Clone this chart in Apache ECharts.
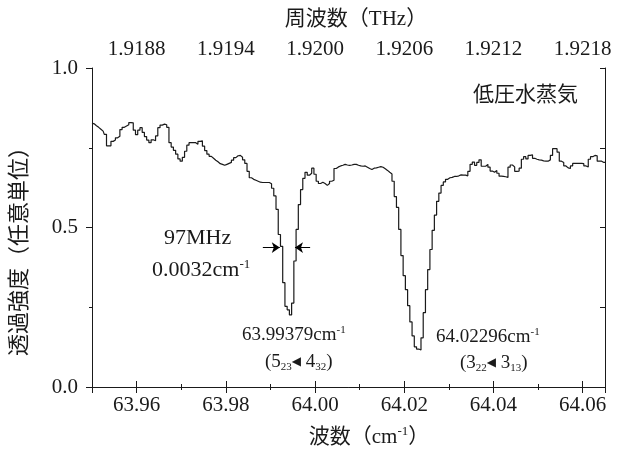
<!DOCTYPE html>
<html><head><meta charset="utf-8">
<script src="https://cdn.jsdelivr.net/npm/echarts@6/dist/echarts.min.js"></script>
<style>html,body{margin:0;padding:0;background:#fff}#c{width:624px;height:450px}</style>
</head><body><div id="c"></div>
<script>
// sampling grid of the spectrum (wavenumber, cm^-1)
const waveStart = 63.95;
const waveStep = 0.0005;
// transmitted intensity (arb. units)
const transmission = [
0.827,0.825,0.819,0.814,0.808,0.802,0.792,0.756,0.756,0.770,
0.774,0.781,0.786,0.807,0.814,0.818,0.822,0.829,0.828,0.805,
0.791,0.805,0.813,0.798,0.785,0.774,0.766,0.775,0.772,0.787,
0.813,0.821,0.824,0.822,0.814,0.766,0.752,0.742,0.730,0.715,
0.708,0.720,0.739,0.758,0.766,0.766,0.766,0.761,0.770,0.772,
0.755,0.741,0.730,0.723,0.717,0.711,0.706,0.700,0.698,0.695,
0.698,0.701,0.704,0.711,0.719,0.725,0.726,0.720,0.712,0.701,
0.676,0.656,0.651,0.648,0.645,0.642,0.641,0.641,0.641,0.641,
0.637,0.623,0.599,0.557,0.478,0.441,0.327,0.253,0.242,0.226,
0.263,0.395,0.494,0.572,0.619,0.654,0.673,0.664,0.670,0.686,
0.667,0.645,0.638,0.642,0.638,0.632,0.638,0.645,0.648,0.685,
0.690,0.693,0.695,0.698,0.696,0.695,0.696,0.698,0.698,0.695,
0.693,0.692,0.693,0.689,0.685,0.682,0.686,0.687,0.689,0.691,
0.689,0.684,0.679,0.673,0.668,0.645,0.597,0.563,0.494,0.412,
0.349,0.305,0.255,0.204,0.160,0.126,0.119,0.116,0.154,0.233,
0.305,0.368,0.431,0.491,0.539,0.582,0.608,0.632,0.643,0.651,
0.656,0.657,0.660,0.660,0.662,0.665,0.664,0.664,0.662,0.676,
0.698,0.705,0.695,0.704,0.712,0.692,0.692,0.698,0.689,0.677,
0.673,0.679,0.670,0.661,0.660,0.659,0.657,0.689,0.696,0.690,
0.676,0.677,0.686,0.714,0.722,0.715,0.726,0.728,0.717,0.714,
0.712,0.711,0.709,0.708,0.708,0.712,0.726,0.747,0.747,0.736,
0.708,0.704,0.693,0.687,0.685,0.693,0.701,0.701,0.701,0.701,
0.700,0.693,0.690,0.714,0.722,0.726,0.725,0.708,0.708,0.704,0.704
];
const bottomTickLabels = ['63.96','63.98','64.00','64.02','64.04','64.06'];
const topTickLabels = ['1.9188','1.9194','1.9200','1.9206','1.9212','1.9218'];
const yTickLabels = ['0.0','0.5','1.0'];
const xMin = 63.95, xMax = 64.065;
// FWHM arrows (cm^-1, intensity)
const fwhmY = 0.437;
const fwhmLeftArrow = [63.9883, 63.9921];
const fwhmRightArrow = [63.9989, 63.9955];

const serif = "'Liberation Serif','DejaVu Serif','Noto Sans CJK JP',serif";
const cjk = "'Liberation Serif','Noto Sans CJK JP',sans-serif";
const ink = '#1a1a1a';

const data = transmission.map((v, i) => [+(waveStart + i * waveStep).toFixed(4), v]);

const chart = echarts.init(document.getElementById('c'), null, {renderer: 'canvas'});
const axisLine = {show: true, lineStyle: {color: ink, width: 1}};
chart.setOption({
  animation: false,
  backgroundColor: '#fff',
  grid: {left: 92, right: 19, top: 68, bottom: 63},
  xAxis: [{
    type: 'value', position: 'bottom', min: xMin, max: xMax, splitNumber: 5,
    axisLine, splitLine: {show: false},
    axisTick: {show: true, inside: false, length: 6, lineStyle: {color: ink}},
    minorTick: {show: true, splitNumber: 2, length: 3, lineStyle: {color: ink}},
    axisLabel: {show: true, margin: 8, showMinLabel: false, showMaxLabel: false,
      color: ink, fontFamily: serif, fontSize: 21,
      formatter: v => { const s = v.toFixed(2); return bottomTickLabels.includes(s) ? s : ''; }}
  }, {
    type: 'value', position: 'top', min: xMin, max: xMax, splitNumber: 5,
    axisLine, splitLine: {show: false},
    axisTick: {show: true, inside: false, length: 6, lineStyle: {color: ink}},
    minorTick: {show: true, splitNumber: 2, length: 3, lineStyle: {color: ink}},
    axisLabel: {show: true, margin: 8, showMinLabel: false, showMaxLabel: false,
      color: ink, fontFamily: serif, fontSize: 21,
      formatter: v => { const k = Math.round((v - 63.96) / 0.02); return (k >= 0 && Math.abs(v - (63.96 + k * 0.02)) < 1e-6 && topTickLabels[k]) ? topTickLabels[k] : ''; }}
  }],
  yAxis: [{
    type: 'value', position: 'left', min: 0, max: 1, interval: 0.5,
    axisLine, splitLine: {show: false},
    axisTick: {show: true, inside: false, length: 6, lineStyle: {color: ink}},
    minorTick: {show: true, splitNumber: 2, length: 3, lineStyle: {color: ink}},
    axisLabel: {show: true, margin: 14, color: ink, fontFamily: serif, fontSize: 21,
      formatter: v => yTickLabels[Math.round(v * 2)] || ''}
  }, {
    type: 'value', position: 'right', min: 0, max: 1, interval: 0.25,
    axisLine, splitLine: {show: false},
    axisTick: {show: true, inside: true, length: 5, lineStyle: {color: ink}},
    axisLabel: {show: false}
  }],
  series: [{
    type: 'line', xAxisIndex: 0, yAxisIndex: 0, step: 'middle',
    showSymbol: false, symbol: 'none', data,
    lineStyle: {color: ink, width: 1.2},
    markLine: {
      silent: true, symbol: ['none', 'arrow'], symbolSize: 8, animation: false,
      lineStyle: {color: '#000', width: 1, type: 'solid'}, label: {show: false},
      data: [
        [{coord: [fwhmLeftArrow[0], fwhmY]}, {coord: [fwhmLeftArrow[1], fwhmY]}],
        [{coord: [fwhmRightArrow[0], fwhmY]}, {coord: [fwhmRightArrow[1], fwhmY]}]
      ]
    }
  }],
  graphic: [
    {type: 'text', x: 356, y: 19, style: {text: '周波数（THz）', fill: ink, font: "21px " + cjk, align: 'center', verticalAlign: 'middle'}},
    {type: 'text', x: 369, y: 437, style: {text: '波数（cm{s|-1}）', fill: ink, font: "21px " + cjk, align: 'center', verticalAlign: 'middle',
      rich: {s: {fontSize: 13, fontFamily: serif, verticalAlign: 'top', lineHeight: 24}}}},
    {type: 'text', x: 20, y: 246, rotation: Math.PI / 2, style: {text: '透過強度（任意単位）', fill: ink, font: "22px " + cjk, align: 'center', verticalAlign: 'middle'}},
    {type: 'text', x: 473, y: 93, style: {text: '低圧水蒸気', fill: ink, font: "21px 'Noto Sans CJK JP',sans-serif", align: 'left', verticalAlign: 'middle'}},
    {type: 'text', x: 164, y: 238, style: {text: '97MHz', fill: ink, font: "22px " + serif, align: 'left', verticalAlign: 'middle'}},
    {type: 'text', x: 152, y: 270, style: {text: '0.0032cm{s|-1}', fill: ink, font: "22px " + serif, align: 'left', verticalAlign: 'middle',
      rich: {s: {fontSize: 13, fontFamily: serif, verticalAlign: 'top', lineHeight: 24}}}},
    {type: 'text', x: 242, y: 335, style: {text: '63.99379cm{s|-1}', fill: ink, font: "19px " + serif, align: 'left', verticalAlign: 'middle',
      rich: {s: {fontSize: 11, fontFamily: serif, verticalAlign: 'top', lineHeight: 21}}}},
    {type: 'text', x: 265, y: 362, style: {text: '(5{b|23}{a|◀} 4{b|32})', fill: ink, font: "19px " + serif, align: 'left', verticalAlign: 'middle',
      rich: {b: {fontSize: 11, fontFamily: serif, verticalAlign: 'bottom', lineHeight: 22}, a: {fontSize: 12, fontFamily: "'DejaVu Sans',sans-serif"}}}},
    {type: 'text', x: 436, y: 337, style: {text: '64.02296cm{s|-1}', fill: ink, font: "19px " + serif, align: 'left', verticalAlign: 'middle',
      rich: {s: {fontSize: 11, fontFamily: serif, verticalAlign: 'top', lineHeight: 21}}}},
    {type: 'text', x: 460, y: 363, style: {text: '(3{b|22}{a|◀} 3{b|13})', fill: ink, font: "19px " + serif, align: 'left', verticalAlign: 'middle',
      rich: {b: {fontSize: 11, fontFamily: serif, verticalAlign: 'bottom', lineHeight: 22}, a: {fontSize: 12, fontFamily: "'DejaVu Sans',sans-serif"}}}}
  ]
});
</script></body></html>
